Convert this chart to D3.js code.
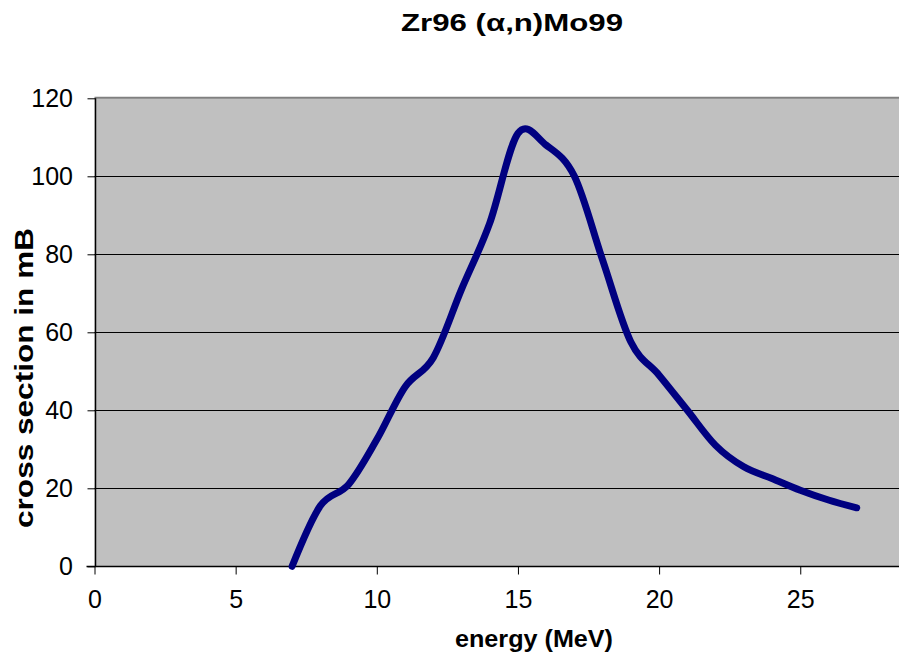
<!DOCTYPE html>
<html>
<head>
<meta charset="utf-8">
<script src="https://cdn.jsdelivr.net/npm/d3@7/dist/d3.min.js"></script>
<style>
  html, body { margin: 0; padding: 0; background: #fff; }
  svg { display: block; font-family: "Liberation Sans", Arial, sans-serif; }
</style>
</head>
<body>
<svg id="chart" width="899" height="660"></svg>
<script>
// Zr96 (alpha,n) Mo99 excitation function
const energy = [7, 8, 9, 10, 11, 12, 13, 14, 15, 16, 17, 18, 19, 20, 21, 22, 23, 24, 25, 26, 27];
const crossSection = [0, 15.5, 21, 32.5, 46, 53.5, 71, 88, 111, 108, 100, 78.5, 57.5, 49, 40, 31, 25.5, 22.5, 19.5, 17, 15];
const xTicks = [0, 5, 10, 15, 20, 25];
const yTicks = [0, 20, 40, 60, 80, 100, 120];

const titleText = "Zr96 (\u03b1,n)Mo99";
const xTitle = "energy (MeV)";
const yTitle = "cross section in mB";

(function () {
  const svg = d3.select("#chart");
  const plotL = 94.5, plotT = 98.3, plotB = 566.3, plotR = 899;

  const x = d3.scaleLinear().domain([0, 30]).range([plotL, plotL + 30 * 28.23]);
  const y = d3.scaleLinear().domain([0, 120]).range([plotB, plotT]);

  // plot area
  svg.append("rect")
    .attr("x", plotL).attr("y", plotT)
    .attr("width", plotR - plotL).attr("height", plotB - plotT)
    .attr("fill", "#c0c0c0");

  // gridlines
  svg.append("g").selectAll("line")
    .data(yTicks.filter(d => d > 0 && d < 120))
    .join("line")
    .attr("x1", plotL).attr("x2", plotR)
    .attr("y1", d => Math.round(y(d)) + 0.5).attr("y2", d => Math.round(y(d)) + 0.5)
    .attr("stroke", "#000").attr("stroke-width", 1);

  // top border of plot area
  svg.append("line")
    .attr("x1", plotL).attr("x2", plotR)
    .attr("y1", plotT - 0.5).attr("y2", plotT - 0.5)
    .attr("stroke", "#808080").attr("stroke-width", 2);

  // axes
  const xAxis = d3.axisBottom(x).tickValues(xTicks).tickSize(8).tickPadding(15.5).tickFormat(d3.format("d"));
  const yAxis = d3.axisLeft(y).tickValues(yTicks).tickSize(8).tickPadding(14.5).tickFormat(d3.format("d"));

  const gx = svg.append("g").attr("transform", `translate(0,${Math.round(plotB) + 0.5})`).call(xAxis);
  gx.select(".domain").attr("d", `M${plotL - 8},0H${plotR}`).attr("stroke", "#000").attr("stroke-width", 1.5);
  gx.selectAll(".tick line").attr("stroke", "#000");
  gx.selectAll(".tick text").attr("font-size", 25).attr("fill", "#000")
    .attr("font-family", "Liberation Sans, Arial, sans-serif");

  const gy = svg.append("g").attr("transform", `translate(${Math.round(plotL) + 0.5},0)`).call(yAxis);
  gy.select(".domain").attr("d", `M0,${plotT}V${plotB}`).attr("stroke", "#000").attr("stroke-width", 1.5);
  gy.selectAll(".tick line").attr("stroke", "#000");
  gy.selectAll(".tick text").attr("font-size", 25).attr("fill", "#000")
    .attr("font-family", "Liberation Sans, Arial, sans-serif");

  // the smoothed data line
  const pts = energy.map((e, i) => [e, crossSection[i]]);
  const line = d3.line()
    .x(d => x(d[0]))
    .y(d => y(d[1]))
    .curve(d3.curveCatmullRom.alpha(0));

  svg.append("path")
    .datum(pts)
    .attr("d", line)
    .attr("fill", "none")
    .attr("stroke", "#000080")
    .attr("stroke-width", 7)
    .attr("stroke-linecap", "round")
    .attr("stroke-linejoin", "round");

  // titles (the bold text is set wide)
  svg.append("text")
    .attr("x", 512).attr("y", 31)
    .attr("text-anchor", "middle")
    .attr("font-size", 23).attr("font-weight", "bold")
    .attr("textLength", 222).attr("lengthAdjust", "spacingAndGlyphs")
    .text(titleText);

  svg.append("text")
    .attr("x", 534).attr("y", 647)
    .attr("text-anchor", "middle")
    .attr("font-size", 24).attr("font-weight", "bold")
    .attr("textLength", 158).attr("lengthAdjust", "spacingAndGlyphs")
    .text(xTitle);

  svg.append("text")
    .attr("transform", "translate(33,378) rotate(-90)")
    .attr("text-anchor", "middle")
    .attr("font-size", 25).attr("font-weight", "bold")
    .attr("textLength", 300).attr("lengthAdjust", "spacingAndGlyphs")
    .text(yTitle);
})();
</script>
</body>
</html>
